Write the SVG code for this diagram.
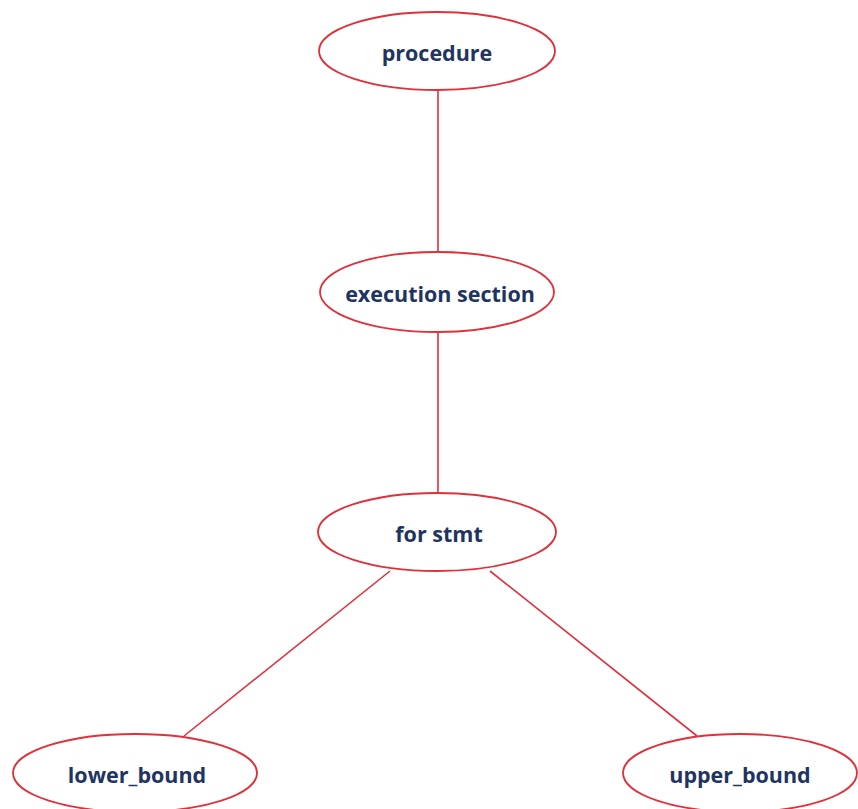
<svg xmlns="http://www.w3.org/2000/svg" width="858" height="809" viewBox="0 0 858 809">
  <style>
    .node ellipse { fill: #ffffff; stroke: #e0303a; stroke-width: 1.8; }
    .node text { font-family: "Open Sans", Lato, "Liberation Sans", sans-serif; font-weight: bold; font-size: 21.5px; fill: #1f3460; text-anchor: middle; dominant-baseline: central; }
    #edges line { stroke: #e0303a; stroke-width: 1.6; }
  </style>
  <rect width="858" height="809" fill="#ffffff"/>
  <g id="edges">
    <line x1="438" y1="90" x2="438" y2="252"/>
    <line x1="438" y1="332" x2="438" y2="493"/>
    <line x1="390" y1="571" x2="184" y2="736"/>
    <line x1="490" y1="571" x2="697" y2="736"/>
  </g>
  <g id="procedure" class="node">
    <ellipse cx="437" cy="51" rx="118" ry="39"/>
    <text x="437" y="52">procedure</text>
  </g>
  <g id="execution-section" class="node">
    <ellipse cx="437" cy="292" rx="117" ry="40"/>
    <text x="440" y="293">execution section</text>
  </g>
  <g id="for-stmt" class="node">
    <ellipse cx="437" cy="532" rx="119" ry="39"/>
    <text x="439" y="533">for stmt</text>
  </g>
  <g id="lower-bound" class="node">
    <ellipse cx="135" cy="773" rx="122" ry="39"/>
    <text x="137" y="774">lower_bound</text>
  </g>
  <g id="upper-bound" class="node">
    <ellipse cx="740" cy="773" rx="117" ry="39"/>
    <text x="740" y="774">upper_bound</text>
  </g>
</svg>
